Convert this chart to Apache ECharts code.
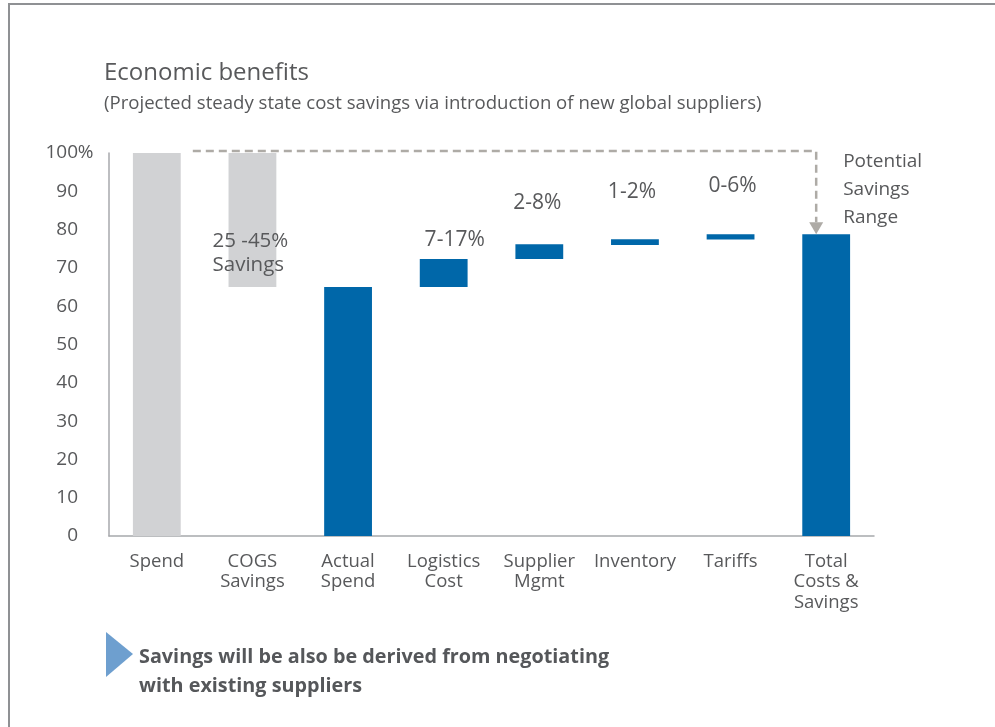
<!DOCTYPE html>
<html>
<head>
<meta charset="utf-8">
<title>Economic benefits</title>
<script src="https://cdn.jsdelivr.net/npm/echarts@6/dist/echarts.min.js"></script>
<style>
  html, body { margin: 0; padding: 0; background: #ffffff; }
  #chart { width: 995px; height: 727px; }
</style>
</head>
<body>
<div id="chart"></div>
<script>
// Waterfall categories (x axis)
const categories = ['Spend', 'COGS\nSavings', 'Actual\nSpend', 'Logistics\nCost', 'Supplier\nMgmt', 'Inventory', 'Tariffs', 'Total\nCosts &\nSavings'];
// Bottom and top of each bar, in % of spend
const barLow  = [0,   65,  0,  65,   72.3, 76.0, 77.4, 0];
const barHigh = [100, 100, 65, 72.3, 76.2, 77.5, 78.8, 78.8];
// Bar colour group: grey for spend / savings, blue for cost build-up
const barGroup = ['grey', 'grey', 'blue', 'blue', 'blue', 'blue', 'blue', 'blue'];
// Range labels per bar
const rangeLabels = ['', '25 -45%\nSavings', '', '7-17%', '2-8%', '1-2%', '0-6%', ''];
// Bracket annotation text
const bracketText = ['Potential', 'Savings', 'Range'];
const footnote = ['Savings will be also be derived from negotiating', 'with existing suppliers'];

const COLORS = { grey: '#d1d2d4', blue: '#0067a9' };
const TEXT = '#58595b';
const FONT = '"Open Sans", "Noto Sans", sans-serif';

// Label placement relative to the top of each bar (pixels)
const labelOffset = [null, null, null, [11, -19], [-2, -41], [-3, -47], [2, -48], null];

const barData = categories.map((c, i) => [i, barLow[i], barHigh[i]]);

const chart = echarts.init(document.getElementById('chart'), null, { renderer: 'canvas' });

chart.setOption({
  backgroundColor: '#ffffff',
  animation: false,
  title: [
    {
      text: 'Economic benefits',
      left: 104, top: 61, padding: 0,
      textStyle: { fontFamily: FONT, fontSize: 24, fontWeight: 'normal', color: TEXT }
    },
    {
      text: '(Projected steady state cost savings via introduction of new global suppliers)',
      left: 104, top: 94, padding: 0,
      textStyle: { fontFamily: FONT, fontSize: 18.6, fontWeight: 'normal', color: TEXT }
    }
  ],
  grid: { left: 109, right: 121, top: 153, bottom: 191, containLabel: false },
  xAxis: {
    type: 'category',
    data: categories,
    axisLine: { lineStyle: { color: '#a7a9ac', width: 1.5 } },
    axisTick: { show: false },
    axisLabel: {
      interval: 0, margin: 15,
      fontFamily: FONT, fontSize: 18.5, color: TEXT, lineHeight: 20.5
    }
  },
  yAxis: {
    type: 'value',
    min: 0, max: 100, interval: 10,
    splitLine: { show: false },
    axisLine: { show: true, lineStyle: { color: '#a7a9ac', width: 1.5 } },
    axisTick: { show: false },
    axisLabel: {
      margin: 16,
      formatter: v => v === 100 ? '{n|100}{p|%}' : '{n|' + v + '}{p| }',
      rich: {
        n: { fontFamily: FONT, fontSize: 19, color: TEXT },
        p: { fontFamily: FONT, fontSize: 19, color: TEXT, width: 15, align: 'left' }
      }
    }
  },
  series: [
    {
      type: 'custom',
      name: 'bars',
      data: barData,
      encode: { x: 0, y: [1, 2] },
      clip: false,
      renderItem: function (params, api) {
        const i = api.value(0);
        const lo = api.coord([i, api.value(1)]);
        const hi = api.coord([i, api.value(2)]);
        const band = api.size([1, 0])[0];
        const w = band * 0.5;
        const children = [{
          type: 'rect',
          shape: { x: lo[0] - w / 2, y: hi[1], width: w, height: lo[1] - hi[1] },
          style: { fill: COLORS[barGroup[i]] }
        }];
        const txt = rangeLabels[i];
        if (txt) {
          if (labelOffset[i]) {
            children.push({
              type: 'text',
              style: {
                text: txt, x: hi[0] + labelOffset[i][0], y: hi[1] + labelOffset[i][1],
                align: 'center', verticalAlign: 'middle',
                font: '21px ' + FONT, fill: TEXT
              },
              z2: 10
            });
          } else {
            // savings note sits over the lower part of the grey bar, left-aligned just outside its edge
            children.push({
              type: 'text',
              style: {
                text: txt, x: hi[0] - w / 2 - 16, y: lo[1] - 58,
                align: 'left', verticalAlign: 'top', lineHeight: 24,
                font: '20.5px ' + FONT, fill: TEXT
              },
              z2: 10
            });
          }
        }
        return { type: 'group', children: children };
      },
      z: 2
    },
    {
      type: 'custom',
      name: 'bracket',
      data: [[0, barHigh[0], categories.length - 1, barHigh[categories.length - 1]]],
      encode: { x: 0, y: 1 },
      clip: false,
      silent: true,
      renderItem: function (params, api) {
        const start = api.coord([api.value(0), api.value(1)]);
        const end = api.coord([api.value(2), api.value(3)]);
        const y = start[1] - 2;
        const sx = start[0] + 36;
        const ex = end[0] - 10;
        const tip = end[1];
        const children = [
          {
            type: 'polyline',
            shape: { points: [[sx, y], [ex, y], [ex, tip - 12]] },
            style: { stroke: '#aeaba6', lineWidth: 2.5, lineDash: [8, 5], fill: null }
          },
          {
            type: 'polygon',
            shape: { points: [[ex - 7, tip - 12], [ex + 7, tip - 12], [ex, tip]] },
            style: { fill: '#aeaba6' }
          }
        ];
        bracketText.forEach((t, k) => {
          children.push({
            type: 'text',
            style: {
              text: t, x: end[0] + 17, y: start[1] + 9 + k * 28,
              align: 'left', verticalAlign: 'middle',
              font: '19px ' + FONT, fill: TEXT
            }
          });
        });
        return { type: 'group', children: children };
      },
      z: 3
    }
  ],
  graphic: [
    // frame lines along the top and left edges
    {
      type: 'line', shape: { x1: 8, y1: 4, x2: 995, y2: 4 },
      style: { stroke: '#8f9194', lineWidth: 2 }
    },
    {
      type: 'line', shape: { x1: 9, y1: 4, x2: 9, y2: 727 },
      style: { stroke: '#8f9194', lineWidth: 2 }
    },
    // footnote marker
    {
      type: 'polygon',
      shape: { points: [[106, 632], [133, 654], [106, 677]] },
      style: { fill: '#6e9fcf' }
    },
    {
      type: 'text',
      left: 139, top: 643,
      style: {
        text: footnote.join('\n'), lineHeight: 29,
        font: 'bold 19.8px ' + FONT, fill: '#55575a'
      }
    }
  ]
});
</script>
</body>
</html>
